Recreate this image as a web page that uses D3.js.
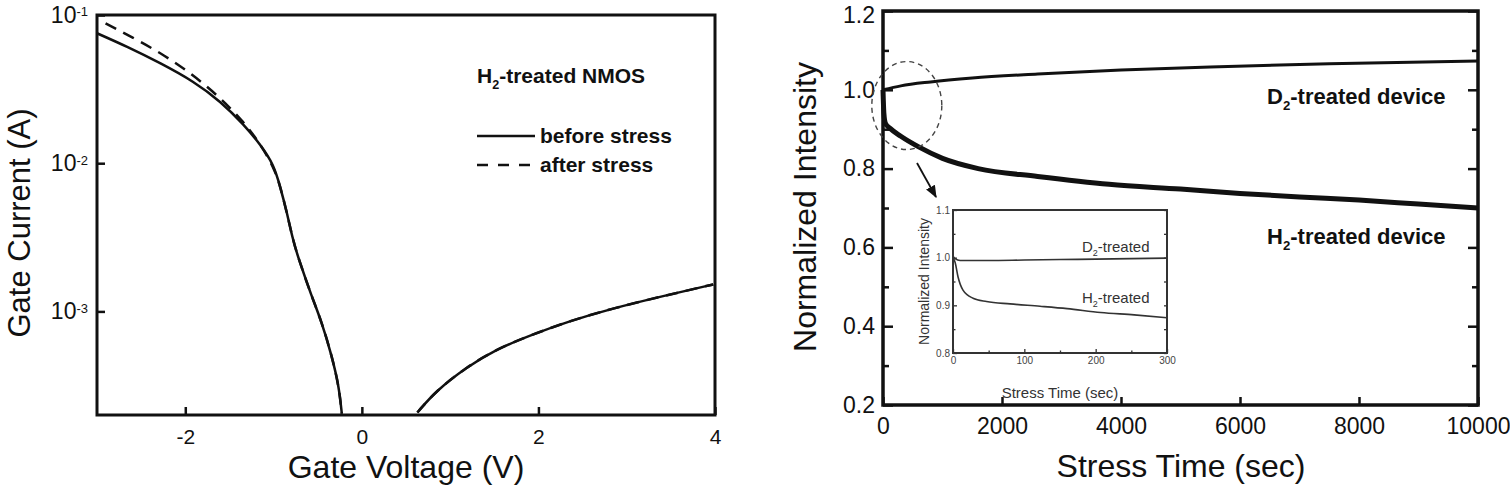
<!DOCTYPE html>
<html>
<head>
<meta charset="utf-8">
<script src="https://cdn.jsdelivr.net/npm/d3@7"></script>
<style>
  body { margin: 0; background: #fff; }
  svg { display: block; font-family: Arial, "Liberation Sans", Helvetica, sans-serif; }
</style>
</head>
<body>
<svg id="fig" width="1510" height="488"></svg>
<script>
// ---- left panel: gate current vs gate voltage (H2-treated NMOS)
const beforeNegV = [-3.0, -2.658, -2.28, -1.903, -1.60, -1.336, -1.147, -0.997, -0.921, -0.85, -0.78, -0.714, -0.568, -0.455, -0.34, -0.26, -0.227];
const beforeNegI = [0.0753, 0.0612, 0.0473, 0.0356, 0.0261, 0.0182, 0.0133, 0.00977, 0.00681, 0.00468, 0.00302, 0.00224, 0.00126, 8.5e-4, 5.0e-4, 3.13e-4, 2.04e-4];
const afterNegV  = [-2.903, -2.545, -2.243, -1.94, -1.639, -1.356, -1.129, -0.978, -0.921, -0.85, -0.78, -0.714, -0.568, -0.455, -0.34, -0.26, -0.227];
const afterNegI  = [0.0879, 0.0679, 0.0538, 0.0405, 0.0289, 0.0196, 0.0130, 0.00881, 0.00681, 0.00468, 0.00302, 0.00224, 0.00126, 8.5e-4, 5.0e-4, 3.13e-4, 2.04e-4];
const posV = [0.629, 0.837, 1.178, 1.519, 1.936, 2.352, 2.845, 3.413, 3.98];
const posI = [2.08e-4, 2.90e-4, 4.18e-4, 5.55e-4, 7.0e-4, 8.61e-4, 1.05e-3, 1.27e-3, 1.52e-3];
const voltTicks = [-2, 0, 2, 4];
const currentTicks = [1e-3, 1e-2, 1e-1];

// ---- right panel: normalized intensity vs stress time
const d2Time = [0, 300, 800, 1500, 2600, 4000, 5500, 7500, 10000];
const d2Int  = [1.0, 1.01, 1.02, 1.03, 1.04, 1.05, 1.058, 1.066, 1.073];
const h2Time = [0, 15, 40, 120, 300, 600, 1000, 1600, 2600, 3800, 5000, 6000, 7000, 8000, 9000, 10000];
const h2Int  = [1.0, 0.94, 0.915, 0.902, 0.882, 0.855, 0.826, 0.80, 0.78, 0.76, 0.748, 0.737, 0.728, 0.72, 0.71, 0.70];
const timeTicks = [0, 2000, 4000, 6000, 8000, 10000];
const intTicks = [0.2, 0.4, 0.6, 0.8, 1.0, 1.2];
const intMinor = [0.3, 0.5, 0.7, 0.9, 1.1];

// ---- inset: first 300 s
const insD2Time = [0, 3, 10, 50, 100, 150, 200, 250, 300];
const insD2Int  = [1.003, 0.998, 0.994, 0.994, 0.995, 0.996, 0.997, 0.998, 0.999];
const insH2Time = [0, 3, 7, 14, 28, 47, 80, 122, 160, 207, 254, 300];
const insH2Int  = [1.0, 0.99, 0.96, 0.932, 0.915, 0.908, 0.903, 0.898, 0.893, 0.885, 0.88, 0.874];
const insTimeTicks = [0, 100, 200, 300];
const insTimeMinor = [50, 150, 250];
const insIntTicks = [0.8, 0.9, 1.0, 1.1];
const insIntMinor = [0.85, 0.95, 1.05];

const ink = "#111";
const svg = d3.select("#fig");

function zip(a, b) { return a.map((v, i) => [v, b[i]]); }

function styleAxis(g, fs, sw) {
  g.select(".domain").remove();
  g.selectAll(".tick line").attr("stroke", ink).attr("stroke-width", sw);
  g.selectAll(".tick text").attr("fill", ink).attr("font-size", fs + "px");
}

// text with a subscript "2" like H2 / D2
function subText(g, x, y, pre, sub, post, fs, weight) {
  const t = g.append("text").attr("x", x).attr("y", y)
    .attr("font-size", fs + "px").attr("font-weight", weight).attr("fill", ink);
  t.append("tspan").text(pre);
  t.append("tspan").attr("font-size", (fs * 0.6) + "px").attr("dy", fs * 0.28).text(sub);
  t.append("tspan").attr("dy", -fs * 0.28).text(post);
  return t;
}

// ================= LEFT PANEL =================
const L = {x0: 97, x1: 715, y0: 15, y1: 415};
const xL = d3.scaleLinear().domain([-3, 4]).range([L.x0, L.x1]);
const yL = d3.scaleLog().domain([2e-4, 0.1]).range([L.y1, L.y0]);

svg.append("clipPath").attr("id", "clipL").append("rect")
  .attr("x", L.x0).attr("y", L.y0).attr("width", L.x1 - L.x0).attr("height", L.y1 - L.y0);

const gL = svg.append("g");
const lineL = d3.line().x(d => xL(d[0])).y(d => yL(d[1])).curve(d3.curveBasis);

const curvesL = gL.append("g").attr("clip-path", "url(#clipL)")
  .attr("fill", "none").attr("stroke", ink).attr("stroke-width", 2.5);
curvesL.append("path").attr("d", lineL(zip(beforeNegV, beforeNegI)));
curvesL.append("path").attr("d", lineL(zip(posV, posI)));
curvesL.append("path").attr("d", lineL(zip(afterNegV, afterNegI))).attr("stroke-dasharray", "12,8");
curvesL.append("path").attr("d", lineL(zip(posV, posI))).attr("stroke-dasharray", "12,8");

gL.append("g").attr("transform", `translate(0,${L.y1})`)
  .call(d3.axisBottom(xL).tickValues(voltTicks).tickSizeInner(-8).tickSizeOuter(0)
    .tickPadding(14).tickFormat(d => String(d)))
  .call(g => styleAxis(g, 21, 2.5));

gL.append("g").attr("transform", `translate(${L.x0},0)`)
  .call(d3.axisLeft(yL).tickValues(currentTicks).tickSizeInner(-8).tickSizeOuter(0)
    .tickPadding(9).tickFormat(() => ""))
  .call(g => styleAxis(g, 23, 2.5))
  .call(g => g.selectAll(".tick text").each(function(d) {
    const t = d3.select(this);
    t.append("tspan").text("10");
    t.append("tspan").attr("dy", "-0.5em").attr("font-size", "13px")
      .text(String(Math.round(Math.log10(d))));
  }));

gL.append("rect").attr("x", L.x0).attr("y", L.y0)
  .attr("width", L.x1 - L.x0).attr("height", L.y1 - L.y0)
  .attr("fill", "none").attr("stroke", ink).attr("stroke-width", 3);

gL.append("text").attr("x", (L.x0 + L.x1) / 2).attr("y", 478)
  .attr("text-anchor", "middle").attr("font-size", "32px").attr("fill", ink)
  .text("Gate Voltage (V)");
gL.append("text").attr("transform", "translate(30,223) rotate(-90)")
  .attr("text-anchor", "middle").attr("font-size", "31px").attr("fill", ink)
  .text("Gate Current (A)");

// legend
subText(gL, 477, 83, "H", "2", "-treated NMOS", 21, "bold");
gL.append("line").attr("x1", 477).attr("x2", 535).attr("y1", 136).attr("y2", 136)
  .attr("stroke", ink).attr("stroke-width", 2.5);
gL.append("text").attr("x", 540).attr("y", 143).attr("font-size", "21px")
  .attr("font-weight", "bold").attr("fill", ink).text("before stress");
gL.append("line").attr("x1", 477).attr("x2", 532).attr("y1", 165).attr("y2", 165)
  .attr("stroke", ink).attr("stroke-width", 2.5).attr("stroke-dasharray", "11,10");
gL.append("text").attr("x", 540).attr("y", 172).attr("font-size", "21px")
  .attr("font-weight", "bold").attr("fill", ink).text("after stress");

// ================= RIGHT PANEL =================
const R = {x0: 883, x1: 1478, y0: 11, y1: 405};
const xR = d3.scaleLinear().domain([0, 10000]).range([R.x0, R.x1]);
const yR = d3.scaleLinear().domain([0.2, 1.2]).range([R.y1, R.y0]);
const gR = svg.append("g");

const lineR = d3.line().x(d => xR(d[0])).y(d => yR(d[1])).curve(d3.curveMonotoneX);
gR.append("path").attr("d", lineR(zip(d2Time, d2Int)))
  .attr("fill", "none").attr("stroke", ink).attr("stroke-width", 3);
gR.append("path").attr("d", lineR(zip(h2Time, h2Int)))
  .attr("fill", "none").attr("stroke", ink).attr("stroke-width", 5);

gR.append("g").attr("transform", `translate(0,${R.y1})`)
  .call(d3.axisBottom(xR).tickValues(timeTicks).tickSizeInner(-8).tickSizeOuter(0)
    .tickPadding(13).tickFormat(d => String(d)))
  .call(g => styleAxis(g, 23, 2.5));
gR.append("g").attr("transform", `translate(${R.x0},0)`)
  .call(d3.axisLeft(yR).tickValues(intTicks).tickSizeInner(-10).tickSizeOuter(0)
    .tickPadding(8).tickFormat(d3.format(".1f")))
  .call(g => styleAxis(g, 23, 2.5))
  .call(g => g.selectAll(".tick text").filter(d => d === 1.2).attr("dy", "0.5em"));
gR.append("g").attr("transform", `translate(${R.x0},0)`)
  .call(d3.axisLeft(yR).tickValues(intMinor).tickSizeInner(-6).tickSizeOuter(0).tickFormat(() => ""))
  .call(g => styleAxis(g, 23, 2.5));
gR.append("g").attr("transform", `translate(${R.x1},0)`)
  .call(d3.axisRight(yR).tickValues(intTicks).tickSizeInner(-10).tickSizeOuter(0).tickFormat(() => ""))
  .call(g => styleAxis(g, 23, 2.5));
gR.append("g").attr("transform", `translate(${R.x1},0)`)
  .call(d3.axisRight(yR).tickValues(intMinor).tickSizeInner(-6).tickSizeOuter(0).tickFormat(() => ""))
  .call(g => styleAxis(g, 23, 2.5));

gR.append("rect").attr("x", R.x0).attr("y", R.y0)
  .attr("width", R.x1 - R.x0).attr("height", R.y1 - R.y0)
  .attr("fill", "none").attr("stroke", ink).attr("stroke-width", 3.5);

gR.append("text").attr("x", 1181).attr("y", 477)
  .attr("text-anchor", "middle").attr("font-size", "32px").attr("fill", ink)
  .text("Stress Time (sec)");
gR.append("text").attr("transform", "translate(816,207) rotate(-90)")
  .attr("text-anchor", "middle").attr("font-size", "32px").attr("fill", ink)
  .text("Normalized Intensity");

subText(gR, 1267, 104, "D", "2", "-treated device", 22, "bold");
subText(gR, 1267, 244, "H", "2", "-treated device", 22, "bold");

// dashed ellipse and arrow pointing to the inset
gR.append("ellipse").attr("cx", xR(400)).attr("cy", yR(0.96)).attr("rx", 35).attr("ry", 44)
  .attr("fill", "none").attr("stroke", "#444").attr("stroke-width", 1.4).attr("stroke-dasharray", "5,4");
svg.append("defs").append("marker").attr("id", "arrow")
  .attr("viewBox", "0 0 10 10").attr("refX", 9).attr("refY", 5)
  .attr("markerWidth", 7).attr("markerHeight", 7).attr("orient", "auto")
  .append("path").attr("d", "M0,1 L10,5 L0,9 Z").attr("fill", ink);
gR.append("line").attr("x1", 917).attr("y1", 163).attr("x2", 936).attr("y2", 197)
  .attr("stroke", ink).attr("stroke-width", 1.8).attr("marker-end", "url(#arrow)");

// ================= INSET =================
const I = {x0: 953, x1: 1167, y0: 210, y1: 353};
const xI = d3.scaleLinear().domain([0, 300]).range([I.x0, I.x1]);
const yI = d3.scaleLinear().domain([0.8, 1.1]).range([I.y1, I.y0]);
const gI = svg.append("g");
const inkI = "#333";

gI.append("rect").attr("x", I.x0).attr("y", I.y0)
  .attr("width", I.x1 - I.x0).attr("height", I.y1 - I.y0).attr("fill", "#fff");

const lineI = d3.line().x(d => xI(d[0])).y(d => yI(d[1])).curve(d3.curveMonotoneX);
gI.append("path").attr("d", lineI(zip(insD2Time, insD2Int)))
  .attr("fill", "none").attr("stroke", inkI).attr("stroke-width", 1.6);
gI.append("path").attr("d", lineI(zip(insH2Time, insH2Int)))
  .attr("fill", "none").attr("stroke", inkI).attr("stroke-width", 1.6);

function styleInset(g) {
  g.select(".domain").remove();
  g.selectAll(".tick line").attr("stroke", inkI).attr("stroke-width", 1.3);
  g.selectAll(".tick text").attr("fill", "#444").attr("font-size", "10px");
}
gI.append("g").attr("transform", `translate(0,${I.y1})`)
  .call(d3.axisBottom(xI).tickValues(insTimeTicks).tickSizeInner(-4).tickSizeOuter(0).tickPadding(4).tickFormat(d => String(d)))
  .call(styleInset);
gI.append("g").attr("transform", `translate(0,${I.y1})`)
  .call(d3.axisBottom(xI).tickValues(insTimeMinor).tickSizeInner(-2.5).tickSizeOuter(0).tickFormat(() => ""))
  .call(styleInset);
gI.append("g").attr("transform", `translate(${I.x0},0)`)
  .call(d3.axisLeft(yI).tickValues(insIntTicks).tickSizeInner(-4).tickSizeOuter(0).tickPadding(3).tickFormat(d3.format(".1f")))
  .call(styleInset);
gI.append("g").attr("transform", `translate(${I.x0},0)`)
  .call(d3.axisLeft(yI).tickValues(insIntMinor).tickSizeInner(-2.5).tickSizeOuter(0).tickFormat(() => ""))
  .call(styleInset);
gI.append("g").attr("transform", `translate(${I.x1},0)`)
  .call(d3.axisRight(yI).tickValues(insIntTicks.concat(insIntMinor)).tickSizeInner(-3).tickSizeOuter(0).tickFormat(() => ""))
  .call(styleInset);

gI.append("rect").attr("x", I.x0).attr("y", I.y0)
  .attr("width", I.x1 - I.x0).attr("height", I.y1 - I.y0)
  .attr("fill", "none").attr("stroke", inkI).attr("stroke-width", 2);

gI.append("text").attr("x", (I.x0 + I.x1) / 2).attr("y", 398)
  .attr("text-anchor", "middle").attr("font-size", "15px").attr("fill", "#333")
  .text("Stress Time (sec)");
gI.append("text").attr("transform", `translate(929,${(I.y0 + I.y1) / 2}) rotate(-90)`)
  .attr("text-anchor", "middle").attr("font-size", "14px").attr("fill", "#333")
  .text("Normalized Intensity");

subText(gI, 1082, 252, "D", "2", "-treated", 15, "normal").attr("fill", "#333");
subText(gI, 1082, 303, "H", "2", "-treated", 15, "normal").attr("fill", "#333");
</script>
</body>
</html>
